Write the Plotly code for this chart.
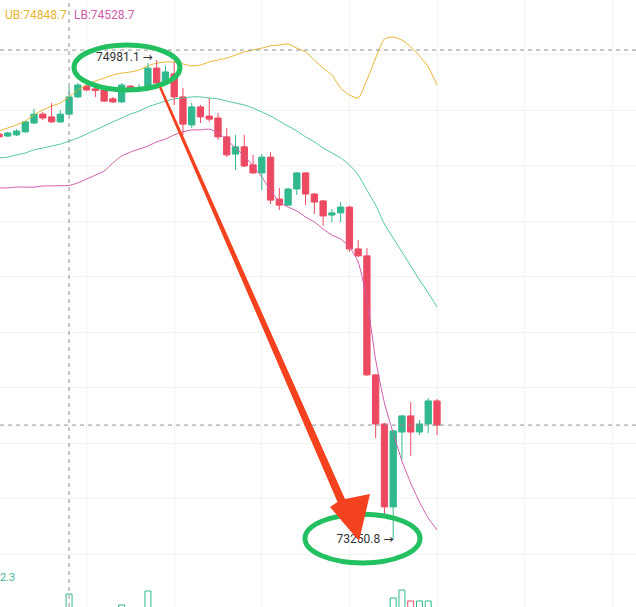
import plotly.graph_objects as go

# ---------------- data ----------------
opens = [74714, 74707, 74711, 74722, 74754, 74786, 74776, 74758, 74786, 74848,
         74887, 74877, 74873, 74841, 74830, 74887, 74877, 74880, 74952, 74898,
         74931, 74848, 74747, 74812, 74779, 74772, 74704, 74642, 74668, 74603,
         74574, 74631, 74480, 74458, 74516, 74574, 74498, 74473, 74422, 74430,
         74451, 74300, 74275, 73846, 73669, 73370, 73640, 73698, 73640, 73669,
         73752]
highs = [74722, 74722, 74732, 74761, 74805, 74794, 74826, 74801, 74884, 74898,
         74895, 74880, 74877, 74848, 74898, 74891, 74895, 74970, 74981.1, 74960,
         74974, 74880, 74826, 74819, 74844, 74790, 74736, 74711, 74711, 74639,
         74642, 74649, 74520, 74520, 74577, 74577, 74502, 74476, 74444, 74469,
         74455, 74332, 74303, 73849, 73673, 73647, 73701, 73748, 73683, 73763,
         73759]
lows = [74700, 74704, 74707, 74718, 74750, 74765, 74754, 74754, 74783, 74844,
        74869, 74848, 74830, 74826, 74826, 74877, 74866, 74877, 74895, 74895,
        74819, 74711, 74736, 74754, 74758, 74693, 74631, 74585, 74595, 74570,
        74512, 74462, 74440, 74455, 74494, 74458, 74426, 74383, 74397, 74397,
        74289, 74271, 73842, 73618, 73330, 73250.8, 73543, 73554, 73629, 73636,
        73629]
closes = [74704, 74718, 74725, 74758, 74786, 74772, 74758, 74786, 74848, 74891,
          74873, 74871, 74833, 74830, 74891, 74880, 74880, 74952, 74898, 74938,
          74848, 74750, 74812, 74776, 74768, 74704, 74639, 74668, 74599, 74574,
          74631, 74476, 74458, 74516, 74574, 74498, 74469, 74419, 74430, 74451,
          74300, 74275, 73846, 73669, 73370, 73644, 73698, 73640, 73669, 73752,
          73665]
ub = [74725, 74736, 74747, 74761, 74783, 74801, 74815, 74826, 74848.7, 74873,
      74891, 74905, 74916, 74927, 74934, 74938, 74945, 74960, 74970, 74974,
      74974, 74967, 74960, 74963, 74974, 74981, 74988, 74999, 75010, 75017,
      75024, 75032, 75035, 75039, 75024, 75010, 74981, 74952, 74927, 74880,
      74855, 74844, 74909, 74988, 75057, 75064, 75053, 75028, 74996, 74956,
      74891]
mb = [74628, 74631, 74639, 74646, 74657, 74664, 74671, 74678, 74688.7, 74700,
      74714, 74729, 74743, 74758, 74772, 74786, 74797, 74812, 74823, 74833,
      74841, 74844, 74848, 74848, 74844, 74841, 74833, 74826, 74819, 74808,
      74794, 74779, 74761, 74743, 74725, 74704, 74686, 74664, 74646, 74628,
      74603, 74567, 74512, 74458, 74390, 74339, 74289, 74239, 74188, 74141,
      74091]
lb = [74520, 74520, 74523, 74523, 74523, 74527, 74527, 74528, 74528.7, 74538,
      74552, 74566, 74581, 74610, 74635, 74649, 74660, 74671, 74686, 74696,
      74711, 74722, 74729, 74729, 74732, 74718, 74693, 74664, 74635, 74599,
      74559, 74512, 74469, 74451, 74437, 74415, 74397, 74372, 74350, 74336,
      74307, 74253, 74116, 73900, 73745, 73636, 73536, 73456, 73388, 73330,
      73287]
volumes = [95, 80, 70, 110, 120, 90, 100, 85, 280, 140,
           95, 60, 90, 75, 170, 50, 55, 310, 130, 110,
           140, 120, 100, 80, 90, 130, 125, 100, 110, 90,
           115, 135, 105, 85, 95, 120, 90, 110, 70, 85,
           130, 100, 145, 140, 145, 240, 320, 210, 210, 210,
           120]
crosshair_index = 8
crosshair_price = 75017
high_index = 18
low_index = 45
vol_label = "2.3"

UP = "#31b88e"
DOWN = "#ec4a62"
UB_COLOR = "#e8b52f"
MB_COLOR = "#4dc7a5"
LB_COLOR = "#cf5ba9"
MARK_GREEN = "#22c060"
ARROW_RED = "#f4421e"
FONT = "Roboto, 'Noto Sans', sans-serif"
ARROW_GLYPH = "<span style='font-family:DejaVu Sans;font-size:12px'>\u2192</span>"

n = len(opens)
idx = list(range(n))
is_up = [closes[i] >= opens[i] for i in idx]

fig = go.Figure()

# bands
for vals, col in ((lb, LB_COLOR), (mb, MB_COLOR), (ub, UB_COLOR)):
    fig.add_trace(go.Scatter(x=idx, y=vals, mode="lines",
                             line=dict(color=col, width=1, shape="spline", smoothing=0.6),
                             hoverinfo="skip"))

# wicks
for up, col in ((True, UP), (False, DOWN)):
    wx, wy = [], []
    for i in idx:
        if is_up[i] == up:
            wx += [i, i, None]
            wy += [lows[i], highs[i], None]
    fig.add_trace(go.Scatter(x=wx, y=wy, mode="lines",
                             line=dict(color=col, width=1), hoverinfo="skip"))

# bodies
for up, col in ((True, UP), (False, DOWN)):
    sel = [i for i in idx if is_up[i] == up]
    fig.add_trace(go.Bar(
        x=sel,
        y=[abs(closes[i] - opens[i]) for i in sel],
        base=[min(opens[i], closes[i]) for i in sel],
        width=0.72,
        marker=dict(color=col, line=dict(color=col, width=1)),
        hoverinfo="skip"))

# volume (hollow bars)
fig.add_trace(go.Bar(
    x=idx, y=volumes, yaxis="y2", width=0.68,
    marker=dict(color="rgba(255,255,255,0)",
                line=dict(color=[UP if u else DOWN for u in is_up], width=1)),
    hoverinfo="skip"))

# low price label (drawn under the hand-drawn arrow)
fig.add_trace(go.Scatter(
    x=[low_index], y=[lows[low_index]], mode="text",
    text=[f"{lows[low_index]:.1f} {ARROW_GLYPH}"], textposition="middle left",
    textfont=dict(family=FONT, size=12, color="#333333"),
    cliponaxis=False, hoverinfo="skip"))

shapes = []
dash = dict(color="#8f8f8f", width=1, dash="4px,4px")
# crosshair
shapes.append(dict(type="line", xref="x", yref="paper", x0=crosshair_index, x1=crosshair_index,
                   y0=0, y1=1, line=dash, layer="above"))
shapes.append(dict(type="line", xref="paper", yref="y", x0=0, x1=1,
                   y0=crosshair_price, y1=crosshair_price, line=dash, layer="above"))
# last price line
shapes.append(dict(type="line", xref="paper", yref="y", x0=0, x1=1,
                   y0=closes[-1], y1=closes[-1], line=dash, layer="above"))
# hand drawn green ellipses
shapes.append(dict(type="circle", xref="x", yref="y", x0=8.56, x1=20.66, y0=74873, y1=75035,
                   line=dict(color=MARK_GREEN, width=5), layer="above"))
shapes.append(dict(type="circle", xref="x", yref="y", x0=34.93, x1=48.06, y0=73168, y1=73344,
                   line=dict(color=MARK_GREEN, width=5), layer="above"))
# hand drawn red arrow (tapered)
pts = [(18.265, 74882.3), (18.516, 74885.6), (39.498, 73398.5), (42.352, 73416.6),
       (41.096, 73247.1), (37.785, 73369.7), (38.642, 73387.7)]
path = "M " + " L ".join(f"{a},{b}" for a, b in pts) + " Z"
shapes.append(dict(type="path", xref="x", yref="y", path=path,
                   fillcolor=ARROW_RED, line=dict(width=0), layer="above"))

annotations = [
    dict(x=high_index, y=highs[high_index], xref="x", yref="y",
         text=f"{highs[high_index]:.1f} {ARROW_GLYPH}", showarrow=False,
         xanchor="right", yanchor="middle", xshift=-2, yshift=3,
         font=dict(family=FONT, size=12, color="#333333")),
    dict(x=0.004, y=0.975, xref="paper", yref="paper", text=f"UB:{ub[crosshair_index]:.1f}",
         showarrow=False, xanchor="left", yanchor="middle",
         font=dict(family=FONT, size=12, color=UB_COLOR)),
    dict(x=0.113, y=0.975, xref="paper", yref="paper", text=f"LB:{lb[crosshair_index]:.1f}",
         showarrow=False, xanchor="left", yanchor="middle",
         font=dict(family=FONT, size=12, color=LB_COLOR)),
    dict(x=0, y=0.0478, xref="paper", yref="paper", text=vol_label, showarrow=False,
         xanchor="left", yanchor="middle", xshift=-2,
         font=dict(family=FONT, size=11, color="#3fb795")),
]

px_per_idx = 8.76
y_top, y_bot = 75197.4, 73009.2
fig.update_layout(
    width=636, height=607, margin=dict(l=0, r=0, t=0, b=0),
    paper_bgcolor="white", plot_bgcolor="white",
    showlegend=False, barmode="overlay", hovermode=False,
    xaxis=dict(range=[1 / px_per_idx, 637 / px_per_idx], showticklabels=False,
               showgrid=True, gridcolor="#f3f3f3", tick0=0, dtick=10,
               zeroline=False, showline=False, ticks=""),
    yaxis=dict(range=[y_bot, y_top], domain=[0, 1], showticklabels=False,
               showgrid=True, gridcolor="#f3f3f3", tick0=0, dtick=200,
               zeroline=False, showline=False, ticks=""),
    yaxis2=dict(range=[150, 440], domain=[0, 0.0478], anchor="x",
                showticklabels=False, showgrid=False, zeroline=False),
    shapes=shapes, annotations=annotations,
    font=dict(family=FONT),
)

fig.write_html("out.html", config={"displayModeBar": False},
               post_script="document.body.style.margin='0';document.body.style.overflow='hidden';")
